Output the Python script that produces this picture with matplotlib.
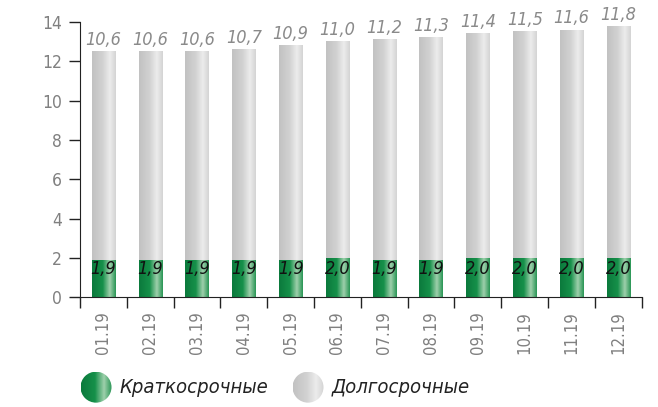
import numpy as np
import matplotlib
matplotlib.use("Agg")
import matplotlib.pyplot as plt
from matplotlib.colors import LinearSegmentedColormap

months = ["01.19", "02.19", "03.19", "04.19", "05.19", "06.19",
          "07.19", "08.19", "09.19", "10.19", "11.19", "12.19"]
short_term = [1.9, 1.9, 1.9, 1.9, 1.9, 2.0, 1.9, 1.9, 2.0, 2.0, 2.0, 2.0]
long_term = [10.6, 10.6, 10.6, 10.7, 10.9, 11.0, 11.2, 11.3, 11.4, 11.5, 11.6, 11.8]

plt.rcParams['font.family'] = ['DejaVu Sans']
plt.rcParams['font.stretch'] = 'condensed'

green_cm = LinearSegmentedColormap.from_list(
    "g", [(0, "#0b7a3c"), (0.45, "#16904a"), (0.75, "#9fd0ac"), (1, "#2a9656")])
gray_cm = LinearSegmentedColormap.from_list(
    "s", [(0, "#c2c2c2"), (0.45, "#d2d2d2"), (0.75, "#ececec"), (1, "#d4d4d4")])
grad = np.linspace(0, 1, 64).reshape(1, -1)

fig = plt.figure(figsize=(6.58, 4.07), dpi=100)
ax = fig.add_axes([0.1216, 0.270, 0.8536, 0.676])

w = 0.5
x = np.arange(len(months))
for i in x:
    s, l = short_term[i], long_term[i]
    ax.imshow(grad, extent=[i - w / 2, i + w / 2, 0, s], aspect='auto',
              cmap=green_cm, zorder=2)
    ax.imshow(grad, extent=[i - w / 2, i + w / 2, s, s + l], aspect='auto',
              cmap=gray_cm, zorder=2)
    ax.text(i, 1.45, f"{s:.1f}".replace(".", ","), ha='center', va='center',
            fontsize=13, style='italic', color='#111111', zorder=3)
    ax.text(i, s + l + 0.12, f"{l:.1f}".replace(".", ","), ha='center',
            va='bottom', fontsize=13, style='italic', color='#8a8a8a', zorder=3)

ax.set_xlim(-0.5, len(months) - 0.5)
ax.set_ylim(0, 14)
ax.set_yticks(range(0, 15, 2))
ax.set_xticks(x)
ax.set_xticklabels(months, rotation=90)
ax.set_xticks(np.arange(-0.5, len(months)), minor=True)
ax.tick_params(axis='x', which='major', length=0, pad=10, labelsize=12,
               labelcolor='#808080')
ax.tick_params(axis='x', which='minor', length=8, width=1, color='#222222')
ax.tick_params(axis='y', length=8, width=1, color='#222222', labelsize=12.5,
               labelcolor='#808080', pad=5)
ax.spines['top'].set_visible(False)
ax.spines['right'].set_visible(False)
for sp in ('left', 'bottom'):
    ax.spines[sp].set_color('#222222')

# legend with gradient circles
lax = fig.add_axes([0, 0, 1, 0.12])
lax.set_xlim(0, 658)
lax.set_ylim(48.84, 0)
lax.axis('off')
for cx, cm, label in [(96, green_cm, "Краткосрочные"), (308, gray_cm, "Долгосрочные")]:
    im = lax.imshow(grad, extent=[cx - 15.5, cx + 15.5, 44.5, 13.5],
                    aspect='auto', cmap=cm)
    circ = plt.Circle((cx, 29), 15.5, transform=lax.transData)
    im.set_clip_path(circ)
    lax.text(cx + 24, 29, label, ha='left', va='center', fontsize=14.5,
             style='italic', color='#222222')

fig.savefig("out.png", dpi=100)
